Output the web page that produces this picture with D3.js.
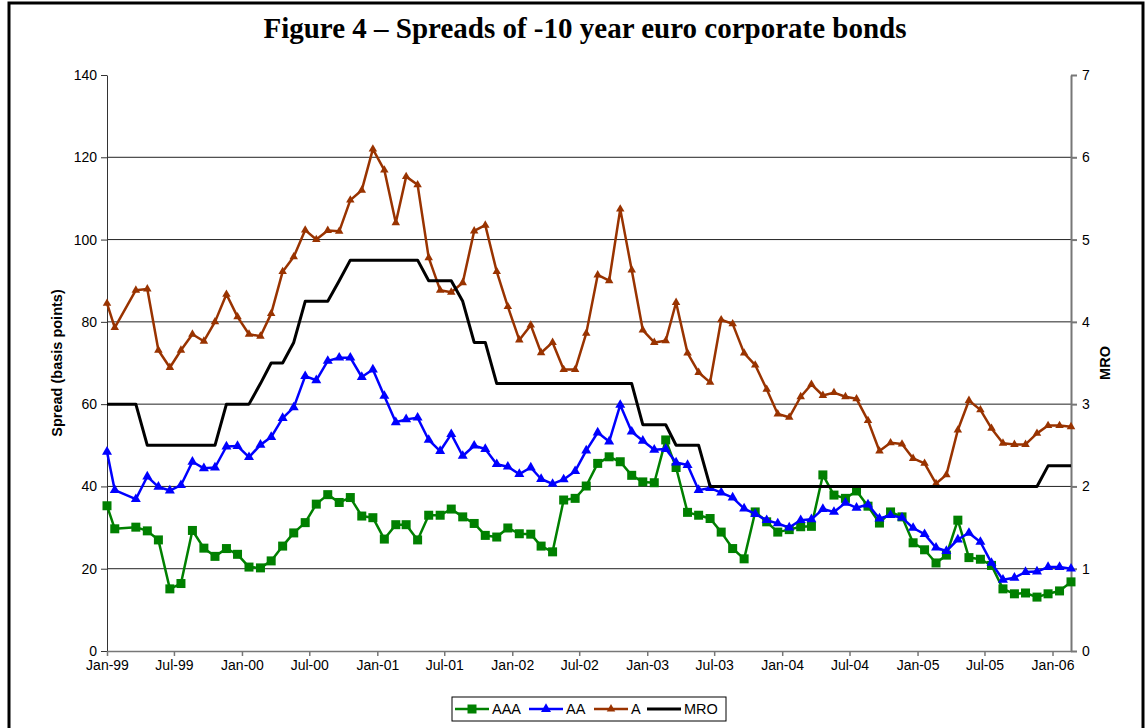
<!DOCTYPE html>
<html lang="en">
<head>
  <meta charset="UTF-8" />
  <title>Figure 4 - Spreads of -10 year euro corporate bonds</title>
  <script src="https://d3js.org/d3.v7.min.js"></script>
  <style>
    body {
      margin: 0;
      background-color: #ffffff;
    }
    svg {
      display: block;
      font-family: "Liberation Sans", Arial, sans-serif;
    }
    .title {
      font-family: "Liberation Serif", "Times New Roman", serif;
      font-weight: bold;
      font-size: 29px;
    }
    .axis text {
      font-size: 14px;
      fill: #000;
    }
    .axis-title {
      font-size: 14.5px;
      font-weight: bold;
    }
    .legend text {
      font-size: 14.5px;
    }
  </style>
</head>
<body>
  <svg id="chart" width="1147" height="728"></svg>

  <script>
    const dates = [
      "1999-01-01", "1999-01-22", "1999-03-20", "1999-04-20", "1999-05-20", "1999-06-20",
      "1999-07-20", "1999-08-20", "1999-09-20", "1999-10-20", "1999-11-20", "1999-12-20",
      "2000-01-20", "2000-02-20", "2000-03-20", "2000-04-20", "2000-05-20", "2000-06-20",
      "2000-07-20", "2000-08-20", "2000-09-20", "2000-10-20", "2000-11-20", "2000-12-20",
      "2001-01-20", "2001-02-20", "2001-03-20", "2001-04-20", "2001-05-20", "2001-06-20",
      "2001-07-20", "2001-08-20", "2001-09-20", "2001-10-20", "2001-11-20", "2001-12-20",
      "2002-01-20", "2002-02-20", "2002-03-20", "2002-04-20", "2002-05-20", "2002-06-20",
      "2002-07-20", "2002-08-20", "2002-09-20", "2002-10-20", "2002-11-20", "2002-12-20",
      "2003-01-20", "2003-02-20", "2003-03-20", "2003-04-20", "2003-05-20", "2003-06-20",
      "2003-07-20", "2003-08-20", "2003-09-20", "2003-10-20", "2003-11-20", "2003-12-20",
      "2004-01-20", "2004-02-20", "2004-03-20", "2004-04-20", "2004-05-20", "2004-06-20",
      "2004-07-20", "2004-08-20", "2004-09-20", "2004-10-20", "2004-11-20", "2004-12-20",
      "2005-01-20", "2005-02-20", "2005-03-20", "2005-04-20", "2005-05-20", "2005-06-20",
      "2005-07-20", "2005-08-20", "2005-09-20", "2005-10-20", "2005-11-20", "2005-12-20",
      "2006-01-20", "2006-02-20"
    ];

    // spreads in basis points
    const aaa = [
      35.3, 29.7, 30.1, 29.2, 27.0, 15.1, 16.4, 29.3, 25.0, 23.0,
      24.9, 23.5, 20.4, 20.2, 21.9, 25.5, 28.7, 31.2, 35.7, 38.0,
      36.1, 37.3, 32.8, 32.4, 27.2, 30.7, 30.7, 27.0, 33.0, 33.0,
      34.5, 32.6, 31.0, 28.1, 27.7, 29.9, 28.5, 28.4, 25.5, 24.1,
      36.7, 37.1, 40.1, 45.6, 47.2, 46.0, 42.7, 41.1, 40.9, 51.3,
      44.6, 33.7, 33.0, 32.2, 28.9, 24.9, 22.4, 33.8, 31.4, 28.9,
      29.5, 30.2, 30.3, 42.8, 37.9, 37.1, 38.9, 35.2, 31.1, 33.8,
      32.6, 26.3, 24.6, 21.4, 23.3, 31.8, 22.7, 22.3, 20.8, 15.1,
      13.9, 14.1, 13.1, 13.9, 14.6, 16.8
    ];
    const aa = [
      48.4, 39.1, 36.9, 42.4, 39.9, 39.0, 40.3, 46.0, 44.4, 44.6,
      49.7, 49.8, 47.1, 50.1, 52.0, 56.6, 59.2, 66.8, 65.8, 70.5,
      71.3, 71.3, 66.6, 68.4, 62.0, 55.6, 56.3, 56.7, 51.3, 48.6,
      52.7, 47.4, 49.9, 49.1, 45.4, 44.8, 43.0, 44.6, 41.8, 40.6,
      41.7, 43.7, 48.7, 53.1, 50.9, 59.8, 53.3, 51.1, 48.9, 49.1,
      45.8, 45.2, 39.1, 39.6, 38.5, 37.3, 34.6, 33.3, 31.8, 31.0,
      30.0, 31.8, 32.0, 34.5, 33.8, 36.0, 34.8, 35.6, 32.2, 33.0,
      32.4, 29.9, 28.4, 25.1, 24.3, 27.1, 28.7, 26.5, 21.4, 17.3,
      17.8, 19.2, 19.3, 20.4, 20.4, 20.0
    ];
    const a = [
      84.5, 78.6, 87.7, 88.0, 73.1, 68.9, 73.1, 77.0, 75.3, 80.0,
      86.7, 81.2, 77.0, 76.5, 82.0, 92.2, 95.8, 102.3, 100.0, 102.2,
      102.0, 109.6, 112.0, 122.0, 116.9, 104.1, 115.3, 113.3, 95.6, 87.7,
      87.2, 89.5, 102.1, 103.5, 92.2, 83.7, 75.6, 79.2, 72.5, 75.0,
      68.4, 68.4, 77.2, 91.4, 90.0, 107.4, 92.6, 78.0, 75.0, 75.4,
      84.7, 72.4, 67.7, 65.3, 80.5, 79.5, 72.4, 69.5, 63.6, 57.6,
      56.8, 61.8, 64.8, 62.1, 62.8, 61.8, 61.3, 56.0, 48.6, 50.6,
      50.3, 46.8, 45.6, 40.7, 42.8, 53.7, 60.9, 58.6, 54.1, 50.5,
      50.2, 50.2, 52.9, 54.8, 54.8, 54.5
    ];
    // ECB main refinancing rate, %, right axis
    const mro = [
      3, 3, 3, 2.5, 2.5, 2.5, 2.5, 2.5, 2.5, 2.5,
      3, 3, 3, 3.25, 3.5, 3.5, 3.75, 4.25, 4.25, 4.25,
      4.5, 4.75, 4.75, 4.75, 4.75, 4.75, 4.75, 4.75, 4.5, 4.5,
      4.5, 4.25, 3.75, 3.75, 3.25, 3.25, 3.25, 3.25, 3.25, 3.25,
      3.25, 3.25, 3.25, 3.25, 3.25, 3.25, 3.25, 2.75, 2.75, 2.75,
      2.5, 2.5, 2.5, 2, 2, 2, 2, 2, 2, 2,
      2, 2, 2, 2, 2, 2, 2, 2, 2, 2,
      2, 2, 2, 2, 2, 2, 2, 2, 2, 2,
      2, 2, 2, 2.25, 2.25, 2.25
    ];

    const leftTicks = [0, 20, 40, 60, 80, 100, 120, 140];
    const rightTicks = [0, 1, 2, 3, 4, 5, 6, 7];
    const xTickLabels = ["Jan-99", "Jul-99", "Jan-00", "Jul-00", "Jan-01", "Jul-01", "Jan-02",
      "Jul-02", "Jan-03", "Jul-03", "Jan-04", "Jul-04", "Jan-05", "Jul-05", "Jan-06"];

    const parseDate = d3.timeParse("%Y-%m-%d");
    const parseTick = d3.timeParse("%b-%y");
    const days = dates.map(parseDate);

    const plot = { left: 107, right: 1071, top: 75, bottom: 651 };

    const svg = d3.select("#chart");

    const x = d3.scaleTime().domain(d3.extent(days)).range([plot.left, plot.right]);
    const y = d3.scaleLinear().domain([0, 140]).range([plot.bottom, plot.top]);
    const yRight = d3.scaleLinear().domain([0, 7]).range([plot.bottom, plot.top]);

    // outer frame
    svg.append("rect")
      .attr("x", 9).attr("y", 3)
      .attr("width", 1134).attr("height", 760)
      .attr("fill", "none")
      .attr("stroke", "#000")
      .attr("stroke-width", 3);

    svg.append("text")
      .attr("class", "title")
      .attr("x", 585).attr("y", 38)
      .attr("text-anchor", "middle")
      .text("Figure 4 \u2013 Spreads of -10 year euro corporate bonds");

    // gridlines
    svg.append("g")
      .selectAll("line")
      .data(leftTicks.filter(d => d > 0 && d < 140))
      .enter().append("line")
      .attr("x1", plot.left).attr("x2", plot.right)
      .attr("y1", d => y(d)).attr("y2", d => y(d))
      .attr("stroke", "#222")
      .attr("stroke-width", 1);

    // axes
    const leftAxis = svg.append("g")
      .attr("class", "axis")
      .attr("transform", `translate(${plot.left},0)`)
      .call(d3.axisLeft(y).tickValues(leftTicks).tickSize(6).tickSizeOuter(0).tickPadding(4));

    const bottomAxis = svg.append("g")
      .attr("class", "axis")
      .attr("transform", `translate(0,${plot.bottom})`)
      .call(d3.axisBottom(x)
        .tickValues(xTickLabels.map(parseTick))
        .tickFormat(d3.timeFormat("%b-%y"))
        .tickSize(5).tickSizeOuter(0).tickPadding(4));

    const rightAxis = svg.append("g")
      .attr("class", "axis")
      .attr("transform", `translate(${plot.right},0)`)
      .call(d3.axisRight(yRight).tickValues(rightTicks).tickFormat(d3.format("d"))
        .tickSize(6).tickSizeOuter(0).tickPadding(5));

    leftAxis.selectAll("path, line").attr("stroke", "#333");
    bottomAxis.selectAll("path, line").attr("stroke", "#777").attr("stroke-width", 1.5);
    rightAxis.selectAll("path, line").attr("stroke", "#777").attr("stroke-width", 2);
    svg.selectAll(".axis text").attr("font-family", null).attr("font-size", null);

    svg.append("text")
      .attr("class", "axis-title")
      .attr("transform", `translate(62,${(plot.top + plot.bottom) / 2}) rotate(-90)`)
      .attr("text-anchor", "middle")
      .text("Spread (basis points)");

    svg.append("text")
      .attr("class", "axis-title")
      .attr("transform", `translate(1110,${(plot.top + plot.bottom) / 2}) rotate(-90)`)
      .attr("text-anchor", "middle")
      .text("MRO");

    // series
    const series = [
      { name: "AAA", values: aaa, scale: y, color: "#008000", marker: "square", size: 9 },
      { name: "AA", values: aa, scale: y, color: "#0000ff", marker: "triangle", size: 10 },
      { name: "A", values: a, scale: y, color: "#993300", marker: "triangle", size: 8.5 },
      { name: "MRO", values: mro, scale: yRight, color: "#000000", marker: null, size: 0 }
    ];

    function drawMarker(g, s, px, py) {
      if (s.marker === "square") {
        g.append("rect")
          .attr("x", px - s.size / 2).attr("y", py - s.size / 2)
          .attr("width", s.size).attr("height", s.size)
          .attr("fill", s.color);
      } else if (s.marker === "triangle") {
        const area = Math.sqrt(3) / 4 * s.size * s.size;
        g.append("path")
          .attr("d", d3.symbol(d3.symbolTriangle, area)())
          .attr("transform", `translate(${px},${py})`)
          .attr("fill", s.color);
      }
    }

    series.forEach(s => {
      const pts = s.values.map((v, i) => [x(days[i]), s.scale(v)]);
      const g = svg.append("g");
      g.append("path")
        .attr("d", d3.line()(pts))
        .attr("fill", "none")
        .attr("stroke", s.color)
        .attr("stroke-width", s.marker ? 2.5 : 3)
        .attr("stroke-linejoin", "round");
      pts.forEach(p => drawMarker(g, s, p[0], p[1]));
    });

    // legend
    const legend = svg.append("g").attr("class", "legend");
    legend.append("rect")
      .attr("x", 452).attr("y", 697)
      .attr("width", 274).attr("height", 24)
      .attr("fill", "#fff")
      .attr("stroke", "#000");

    const legendItems = [
      { s: series[0], x0: 455 },
      { s: series[1], x0: 529 },
      { s: series[2], x0: 594 },
      { s: series[3], x0: 647 }
    ];
    legendItems.forEach(item => {
      const g = legend.append("g");
      g.append("line")
        .attr("x1", item.x0).attr("x2", item.x0 + 34)
        .attr("y1", 709).attr("y2", 709)
        .attr("stroke", item.s.color)
        .attr("stroke-width", item.s.marker ? 2.5 : 3);
      drawMarker(g, item.s, item.x0 + 17, 709);
      g.append("text")
        .attr("x", item.x0 + 37).attr("y", 714)
        .text(item.s.name);
    });
  </script>
</body>
</html>
